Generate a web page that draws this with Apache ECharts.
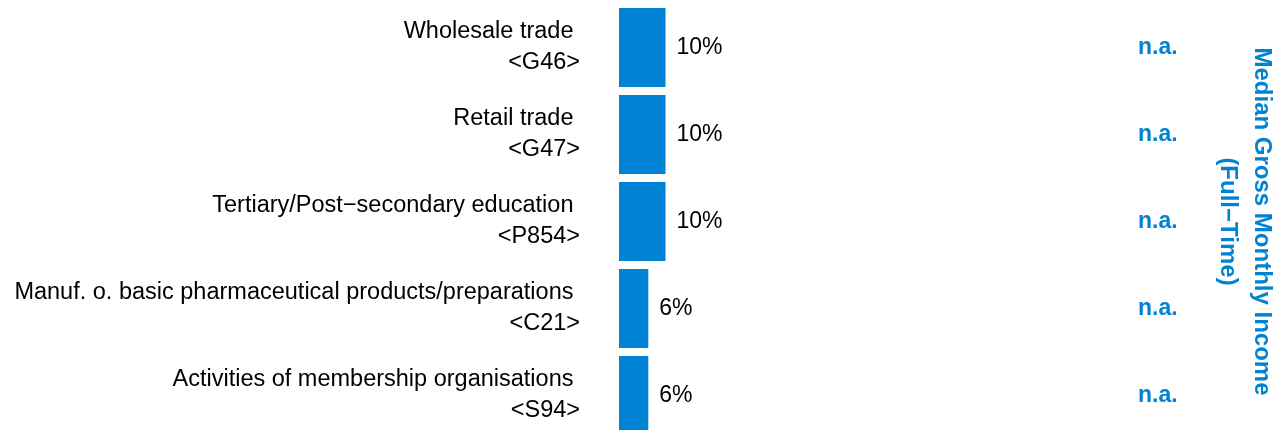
<!DOCTYPE html>
<html>
<head>
<meta charset="utf-8">
<script src="https://cdn.jsdelivr.net/npm/echarts@6/dist/echarts.min.js"></script>
<style>
  html, body { margin: 0; padding: 0; background: #fff; }
  #chart { width: 1282px; height: 430px; }
</style>
</head>
<body>
<div id="chart"></div>
<script>
// industries, top to bottom
const categories = [
  'Wholesale trade \n<G46>',
  'Retail trade \n<G47>',
  'Tertiary/Post\u2212secondary education \n<P854>',
  'Manuf. o. basic pharmaceutical products/preparations \n<C21>',
  'Activities of membership organisations \n<S94>'
]
// share in percent
const shares = [10, 10, 10, 6.3, 6.3]
// median income column
const incomeLabels = ['n.a.', 'n.a.', 'n.a.', 'n.a.', 'n.a.']

const blue = '#0083d3'
const font = 'Liberation Sans, Arial, Helvetica, sans-serif'

const myChart = echarts.init(document.getElementById('chart'))
const option = {
  animation: false,
  grid: {
    left: 619,
    top: 4,
    width: 465,
    height: 435,
    containLabel: false,
    outerBoundsMode: 'none',
  },
  xAxis: {
    type: 'value',
    min: 0,
    max: 100,
    show: false,
  },
  yAxis: [
    {
      type: 'category',
      data: categories,
      inverse: true,
      axisLine: { show: false },
      axisTick: { show: false },
      splitLine: { show: false },
      axisLabel: {
        margin: 39,
        fontSize: 23.5,
        lineHeight: 31,
        padding: [6, 0, 0, 0],
        color: '#000',
        fontFamily: font,
      },
    },
    {
      type: 'category',
      data: incomeLabels,
      inverse: true,
      position: 'right',
      axisLine: { show: false },
      axisTick: { show: false },
      splitLine: { show: false },
      axisLabel: {
        margin: 54,
        fontSize: 23,
        fontWeight: 'bold',
        color: blue,
        fontFamily: font,
      },
      name: 'Median Gross Monthly Income\n(Full\u2212Time)',
      nameLocation: 'middle',
      nameRotate: -90,
      nameGap: 127,
      nameTextStyle: {
        fontSize: 24,
        fontWeight: 'bold',
        color: blue,
        lineHeight: 34,
        fontFamily: font,
      },
    },
  ],
  series: [
    {
      type: 'bar',
      data: shares,
      barCategoryGap: '9%',
      itemStyle: { color: blue },
      label: {
        show: true,
        position: 'right',
        distance: 11,
        fontSize: 23,
        color: '#000',
        fontFamily: font,
        formatter: (p) => Math.round(p.value) + '%',
      },
    },
  ],
}
myChart.setOption(option)
</script>
</body>
</html>
